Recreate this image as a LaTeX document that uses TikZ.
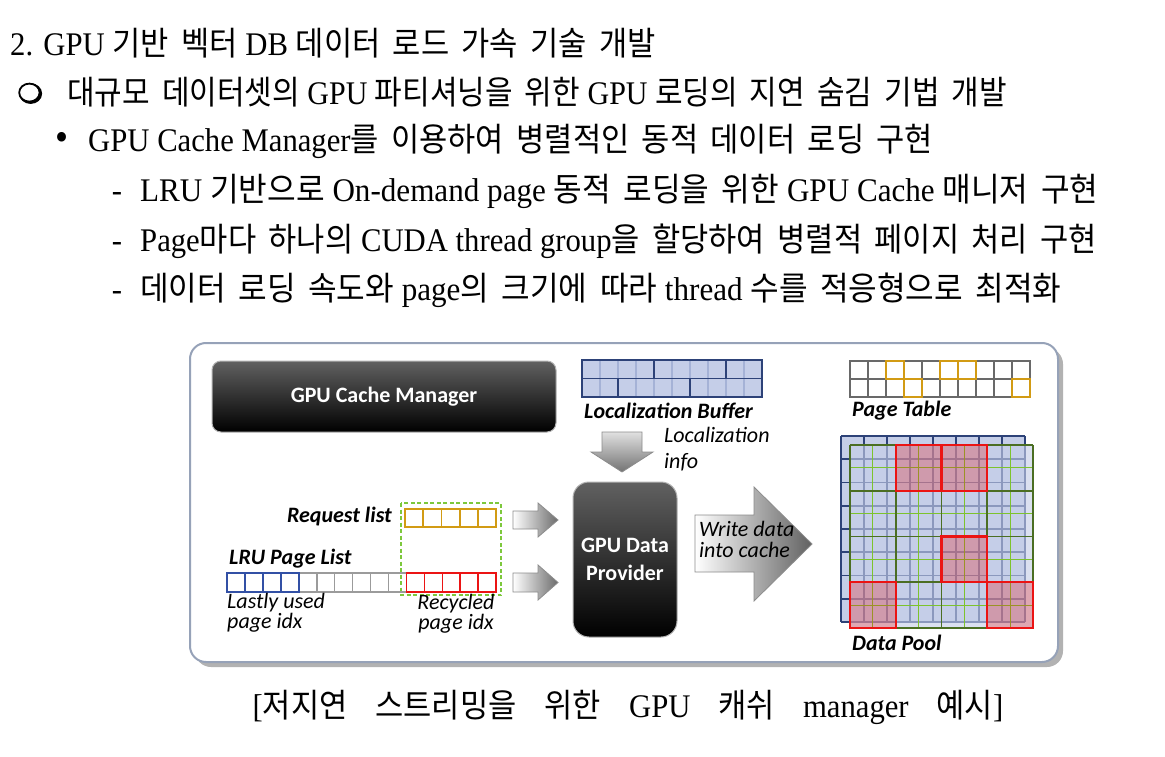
\documentclass[tikz,border=0pt]{standalone}
\usepackage{fontspec}
\setmainfont[FakeStretch=0.93]{Liberation Serif}
\newfontfamily\krfont[FakeStretch=0.93,WordSpace=1.8]{Noto Sans CJK KR}
\newfontfamily\lblfont{Carlito}
\newcommand\hg[1]{{\krfont #1}}
\usetikzlibrary{calc}

\definecolor{bufblue}{RGB}{197,206,232}
\definecolor{bufthin}{RGB}{165,178,214}
\definecolor{bufdark}{RGB}{45,66,120}
\definecolor{ptgray}{RGB}{105,105,105}
\definecolor{ptorange}{RGB}{210,155,20}
\definecolor{lrublue}{RGB}{50,80,165}
\definecolor{lrugray}{RGB}{155,155,155}
\definecolor{lrured}{RGB}{235,20,20}
\definecolor{dashgreen}{RGB}{125,200,60}
\definecolor{pooldark}{RGB}{75,110,35}
\definecolor{poollight}{RGB}{125,195,45}
\definecolor{framecol}{RGB}{150,162,184}

\tikzset{
  txtline/.style={anchor=west, inner sep=0pt, font=\fontsize{33}{38}\selectfont},
  blackbox/.style={draw=black!30, line width=1, top color=black!62, middle color=black, bottom color=black,
    text=white, align=center, font=\lblfont\bfseries\fontsize{22}{28}\selectfont},
  lbl/.style={inner sep=0pt, font=\lblfont\bfseries\itshape\fontsize{22}{24}\selectfont},
  note/.style={inner sep=0pt, align=left, font=\lblfont\itshape\fontsize{22}{18.5}\selectfont},
  sarrow/.style={draw=black!45, line width=0.8, left color=white, right color=black!58},
}

\begin{document}
\begin{tikzpicture}[x=1pt, y=-1pt]
\useasboundingbox (0,0) rectangle (1165,757);

\node[txtline] (h1) at (10,43) {2. GPU \hg{기반 벡터} DB \hg{데이터 로드 가속 기술 개발}};
\draw[black, line width=2.6] (30.6,93.6) ellipse (10.2 and 9);
\draw[black, line width=1.8, fill=white] (29.4,92.6) ellipse (10.2 and 9);
\node[txtline] (h2) at (67,92) {\scalebox{0.977}[1]{\hg{대규모 데이터셋의} GPU \hg{파티셔닝을 위한} GPU \hg{로딩의 지연 숨김 기법 개발}}};
\node[txtline] (h3) at (88,141) {GPU Cache Manager\hg{를 이용하여 병렬적인 동적 데이터 로딩 구현}};
\node[txtline] (h4) at (140,191) {\scalebox{1.014}[1]{LRU \hg{기반으로} On-demand page \hg{동적 로딩을 위한} GPU Cache \hg{매니저 구현}}};
\node[txtline] (h5) at (140,241) {Page\hg{마다 하나의} CUDA thread group\hg{을 할당하여 병렬적 페이지 처리 구현}};
\node[txtline] (h6) at (140,290) {\scalebox{1.013}[1]{\hg{데이터 로딩 속도와} page\hg{의 크기에 따라} thread \hg{수를 적응형으로 최적화}}};
\node[txtline, anchor=base, font=\fontsize{40}{40}\selectfont] (m3) at ($(h3.base west)+(-26,-1)$) {•};
\foreach \n in {4,5,6}{
	\node[txtline, anchor=base] (m\n) at ($(h\n.base west)+(-23,0)$) {-};
}
\node[inner sep=0pt, font=\fontsize{33}{38}\selectfont] (cap) at (628,707)
  {[\hg{저지연}\hspace{28pt}\hg{스트리밍을}\hspace{28pt}\hg{위한}\hspace{28pt}GPU\hspace{28pt}\hg{캐쉬}\hspace{28pt}manager\hspace{28pt}\hg{예시}]};

% frame
\fill[black!30, rounded corners=16] (195,348) rectangle (1063,667);
\draw[framecol, line width=2, fill=white, rounded corners=16] (190,343) rectangle (1058,662);

\node[blackbox, rounded corners=9, minimum width=344, minimum height=71] (gcm) at (384,396.5) {GPU Cache Manager};
\node[blackbox, rounded corners=16, minimum width=104, minimum height=155] (gdp) at (625,559.5) {GPU Data\\Provider};

% localization buffer
\fill[bufblue] (582,360) rectangle (762,397);
\foreach \i in {1,...,9}{
	\draw[bufthin, line width=1.2] (582+\i*18,360)--(582+\i*18,397);
}
\foreach \i in {4,8}{
	\draw[bufdark, line width=1.6] (582+\i*18,360)--(582+\i*18,378.5);
}
\foreach \i in {2,6}{
	\draw[bufdark, line width=1.6] (582+\i*18,378.5)--(582+\i*18,397);
}
\draw[bufdark, line width=1.6] (582,360) rectangle (762,397) (582,378.5)--(762,378.5);
\node[lbl, anchor=west] (lbuf) at (584,411) {Localization Buffer};

% page table
\foreach \i in {0,...,9}{
	\foreach \j in {0,1}{
		\draw[ptgray, line width=1.4] (850+\i*18,361+\j*18) rectangle ++(18,18);
	}
}
\foreach \i/\j in {2/0,5/0,6/0,3/1,9/1}{
	\draw[ptorange, line width=1.4] (850+\i*18,361+\j*18) rectangle ++(18,18);
}
\node[lbl, anchor=west] (ptab) at (852,411) {Page Table};

% localization info arrow
\shade[draw=black!45, line width=0.8, top color=black!12, bottom color=black!55]
	(602,432)--(642,432)--(642,452)--(653,452)--(622,472)--(591,452)--(602,452)--cycle;
\node[note, anchor=north west, font=\lblfont\itshape\fontsize{22}{26}\selectfont] (linfo) at (664,427) {Localization\\info};

% request list and LRU list
\draw[dashgreen, line width=1.5, dash pattern=on 4pt off 2.5pt] (401,503) rectangle (501,595);
\foreach \i in {0,...,4}{
	\draw[ptorange, line width=1.8] (405+\i*18.2,509) rectangle ++(18.2,18);
}
\node[lbl, anchor=east] (reql) at (392,517) {Request list};
\foreach \i in {4,...,9}{
	\draw[lrugray, line width=1.5] (227+\i*17.95,573) rectangle ++(17.95,19);
}
\foreach \i in {0,...,3}{
	\draw[lrublue, line width=1.5] (227+\i*17.95,573) rectangle ++(17.95,19);
}
\foreach \i in {10,...,14}{
	\draw[lrured, line width=1.8] (227+\i*17.95,573) rectangle ++(17.95,19);
}
\node[lbl, anchor=west] (lrul) at (229,559) {LRU Page List};
\node[note, anchor=north west] (lastu) at (227,593) {Lastly used\\page idx};
\node[note, anchor=north, align=center] (recy) at (456,594) {Recycled\\page idx};

% arrows into provider
\shade[sarrow] (513,511)--(538,511)--(538,503)--(558,520)--(538,537)--(538,529)--(513,529)--cycle;
\shade[sarrow] (513,573)--(538,573)--(538,565)--(558,582.5)--(538,600)--(538,592)--(513,592)--cycle;

% write arrow
\shade[draw=black!45, line width=0.8, left color=white, right color=black!62]
	(695,515)--(754,515)--(754,487)--(812,544)--(754,601)--(754,572)--(695,572)--cycle;
\node[note, anchor=north west, font=\lblfont\itshape\fontsize{22}{21}\selectfont] (wdat) at (699,521) {Write data\\into cache};

% data pool
\fill[bufblue] (841,436) rectangle (1025,622);
\foreach \i in {0,...,8}{
	\draw[bufdark, line width=1.8] (841+\i*23,436)--(841+\i*23,622);
	\draw[bufdark, line width=1.8] (841,436+\i*23.25)--(1025,436+\i*23.25);
}
\fill[bufblue, fill opacity=0.62] (850,445) rectangle (1033,628);
\foreach \i in {1,...,7}{
	\draw[poollight, line width=1.2] (850+\i*22.875,445)--(850+\i*22.875,628);
	\draw[poollight, line width=1.2] (850,445+\i*22.875)--(1033,445+\i*22.875);
}
\foreach \i in {0,...,4}{
	\draw[pooldark, line width=1.8] (850+\i*45.75,445)--(850+\i*45.75,628);
	\draw[pooldark, line width=1.8] (850,445+\i*45.75)--(1033,445+\i*45.75);
}
\foreach \i/\j in {1/0,2/0,2/2,0/3,3/3}{
	\fill[lrured, fill opacity=0.28] (850+\i*45.75,445+\j*45.75) rectangle ++(45.75,45.75);
	\draw[lrured, line width=2.4] (850+\i*45.75,445+\j*45.75) rectangle ++(45.75,45.75);
}
\node[lbl, anchor=west] (dpool) at (852,643) {Data Pool};

\end{tikzpicture}
\end{document}
